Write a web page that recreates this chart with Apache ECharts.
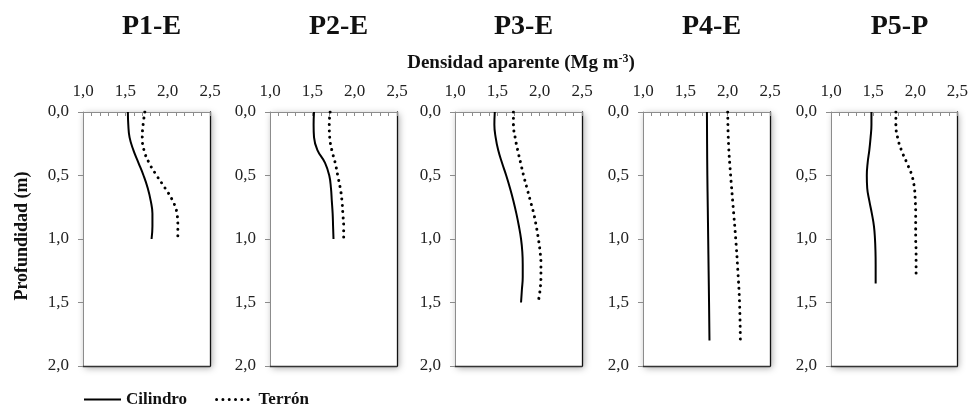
<!DOCTYPE html>
<html>
<head>
<meta charset="utf-8">
<script src="https://cdn.jsdelivr.net/npm/echarts@6/dist/echarts.min.js"></script>
<style>html,body{margin:0;padding:0;background:#fff}#c{width:971px;height:407px}</style>
</head>
<body>
<div id="c"></div>
<script>
// ---- data ----
const panelNames = ['P1-E', 'P2-E', 'P3-E', 'P4-E', 'P5-P'];
const xTickMin = 1.0, xTickMax = 2.5, xTickStep = 0.5;
const yTickMin = 0.0, yTickMax = 2.0, yTickStep = 0.5;

const depthP1 = [0, 0.1, 0.2, 0.3, 0.4, 0.5, 0.6, 0.7, 0.8, 0.9, 1.0];
const cilP1 = [1.53, 1.535, 1.55, 1.595, 1.655, 1.715, 1.765, 1.80, 1.82, 1.82, 1.81];
const terP1 = [1.73, 1.71, 1.70, 1.72, 1.78, 1.87, 1.97, 2.06, 2.11, 2.12, 2.12];

const depthP2 = [0, 0.1, 0.2, 0.3, 0.4, 0.5, 0.6, 0.7, 0.8, 0.9, 1.0];
const cilP2 = [1.52, 1.515, 1.52, 1.56, 1.65, 1.70, 1.72, 1.73, 1.74, 1.745, 1.75];
const terP2 = [1.71, 1.70, 1.705, 1.73, 1.77, 1.80, 1.83, 1.85, 1.86, 1.87, 1.87];

const depthP3Cil = [0, 0.1, 0.2, 0.3, 0.4, 0.5, 0.6, 0.7, 0.8, 0.9, 1.0, 1.1, 1.2, 1.3, 1.4, 1.5];
const cilP3 = [1.47, 1.465, 1.48, 1.51, 1.555, 1.605, 1.65, 1.69, 1.725, 1.755, 1.78, 1.795, 1.80, 1.80, 1.79, 1.78];
const depthP3Ter = [0, 0.1, 0.2, 0.3, 0.4, 0.5, 0.6, 0.7, 0.8, 0.9, 1.0, 1.1, 1.2, 1.3, 1.4, 1.47];
const terP3 = [1.69, 1.69, 1.71, 1.74, 1.775, 1.81, 1.85, 1.89, 1.93, 1.96, 1.985, 2.005, 2.015, 2.015, 2.005, 1.99];

const depthP4 = [0, 0.25, 0.5, 0.75, 1.0, 1.25, 1.5, 1.8];
const cilP4 = [1.755, 1.757, 1.76, 1.765, 1.77, 1.775, 1.78, 1.785];
const terP4 = [2.00, 2.01, 2.035, 2.065, 2.095, 2.12, 2.14, 2.15];

const depthP5Cil = [0, 0.1, 0.2, 0.3, 0.4, 0.5, 0.6, 0.7, 0.8, 0.9, 1.0, 1.1, 1.2, 1.35];
const cilP5 = [1.48, 1.48, 1.47, 1.455, 1.435, 1.425, 1.43, 1.455, 1.485, 1.51, 1.522, 1.528, 1.53, 1.53];
const depthP5Ter = [0, 0.1, 0.2, 0.3, 0.4, 0.5, 0.6, 0.7, 0.8, 0.9, 1.0, 1.1, 1.2, 1.31];
const terP5 = [1.77, 1.77, 1.79, 1.835, 1.90, 1.96, 1.99, 2.00, 2.005, 2.005, 2.005, 2.01, 2.01, 2.01];

const seriesNames = ['Cilindro', 'Terrón'];
const xAxisTitle = 'Densidad aparente (Mg m';
const xAxisTitleSup = '-3';
const yAxisTitle = 'Profundidad (m)';

// ---- build ----
const panelData = [
  [[cilP1, depthP1], [terP1, depthP1]],
  [[cilP2, depthP2], [terP2, depthP2]],
  [[cilP3, depthP3Cil], [terP3, depthP3Ter]],
  [[cilP4, depthP4], [terP4, depthP4]],
  [[cilP5, depthP5Cil], [terP5, depthP5Ter]]
];

const FONT = 'Liberation Serif';
const gridLefts = [83, 270, 455, 643, 831];
const gridW = 127, gridTop = 112, gridH = 254;
const fmt = v => v.toFixed(1).replace('.', ',');
const solidStyle = { color: '#000', width: 2 };
const dotStyle = { color: '#000', width: 3, type: [0.01, 6.3], cap: 'round' };

const grids = [], xAxes = [], yAxes = [], series = [], titles = [];
gridLefts.forEach((l, i) => {
  grids.push({
    left: l, top: gridTop, width: gridW, height: gridH,
    show: true, backgroundColor: '#fff', borderWidth: 0,
    shadowBlur: 7, shadowColor: 'rgba(0,0,0,0.35)', shadowOffsetX: 2, shadowOffsetY: 2
  });
  xAxes.push({
    gridIndex: i, type: 'value', position: 'top', min: xTickMin, max: xTickMax, interval: xTickStep,
    axisLine: { show: true, lineStyle: { color: '#8c8c8c', width: 1 } },
    axisTick: { show: true, inside: true, length: 4, lineStyle: { color: '#8c8c8c' } },
    minorTick: { show: true, splitNumber: 5, length: 4, lineStyle: { color: '#8c8c8c' } },
    splitLine: { show: false },
    axisLabel: { formatter: fmt, margin: 12, fontFamily: FONT, fontSize: 17, color: '#222' }
  });
  xAxes.push({
    gridIndex: i, type: 'value', position: 'bottom', min: xTickMin, max: xTickMax, interval: xTickStep,
    axisLine: { show: true, onZero: false, lineStyle: { color: '#333', width: 1.3 } },
    axisTick: { show: false }, axisLabel: { show: false }, splitLine: { show: false }
  });
  yAxes.push({
    gridIndex: i, type: 'value', inverse: true, min: yTickMin, max: yTickMax, interval: yTickStep,
    axisLine: { show: true, onZero: false, lineStyle: { color: '#8c8c8c', width: 1 } },
    axisTick: { show: true, length: 5, lineStyle: { color: '#8c8c8c' } },
    splitLine: { show: false },
    axisLabel: { formatter: fmt, margin: 14, fontFamily: FONT, fontSize: 17, color: '#222' }
  });
  yAxes.push({
    gridIndex: i, type: 'value', position: 'right', inverse: true, min: yTickMin, max: yTickMax, interval: yTickStep,
    axisLine: { show: true, onZero: false, lineStyle: { color: '#111', width: 1.3 } },
    axisTick: { show: false }, axisLabel: { show: false }, splitLine: { show: false }
  });
  const [[cx, cy], [tx, ty]] = panelData[i];
  series.push({
    name: seriesNames[0], type: 'line', xAxisIndex: 2 * i, yAxisIndex: 2 * i,
    data: cx.map((v, k) => [v, cy[k]]), smooth: 0.45, symbol: 'none',
    lineStyle: solidStyle, itemStyle: { color: '#000' }
  });
  series.push({
    name: seriesNames[1], type: 'line', xAxisIndex: 2 * i, yAxisIndex: 2 * i,
    data: tx.map((v, k) => [v, ty[k]]), smooth: 0.45, symbol: 'none',
    lineStyle: dotStyle, itemStyle: { color: '#000' }
  });
  titles.push({
    text: panelNames[i], left: l + gridW / 2, top: 8, textAlign: 'center',
    textStyle: { fontFamily: FONT, fontSize: 28, fontWeight: 'bold', color: '#111' }
  });
});
titles.push({
  text: '{a|' + xAxisTitle + '}{s|' + xAxisTitleSup + '}{a|)}',
  left: 516, top: 48, textAlign: 'center',
  textStyle: {
    rich: {
      a: { fontFamily: FONT, fontSize: 19, fontWeight: 'bold', color: '#111', verticalAlign: 'bottom' },
      s: { fontFamily: FONT, fontSize: 12, fontWeight: 'bold', color: '#111', verticalAlign: 'top', padding: [0, 0, 8, 0] }
    }
  }
});

const chart = echarts.init(document.getElementById('c'), null, { renderer: 'canvas' });
chart.setOption({
  animation: false,
  title: titles,
  grid: grids,
  xAxis: xAxes,
  yAxis: yAxes,
  series: series,
  legend: {
    data: [
      { name: seriesNames[0], lineStyle: solidStyle },
      { name: seriesNames[1], lineStyle: dotStyle }
    ],
    left: 83, top: 391, padding: 0, itemWidth: 37, itemHeight: 12, itemGap: 28,
    itemStyle: { opacity: 0 },
    textStyle: { fontFamily: FONT, fontSize: 17, fontWeight: 'bold', color: '#111' }
  },
  graphic: [{
    type: 'text', x: 22, y: 236, rotation: Math.PI / 2,
    style: { text: yAxisTitle, textAlign: 'center', textVerticalAlign: 'middle',
      font: 'bold 18px "Liberation Serif"', fill: '#111' }
  }]
});
</script>
</body>
</html>
